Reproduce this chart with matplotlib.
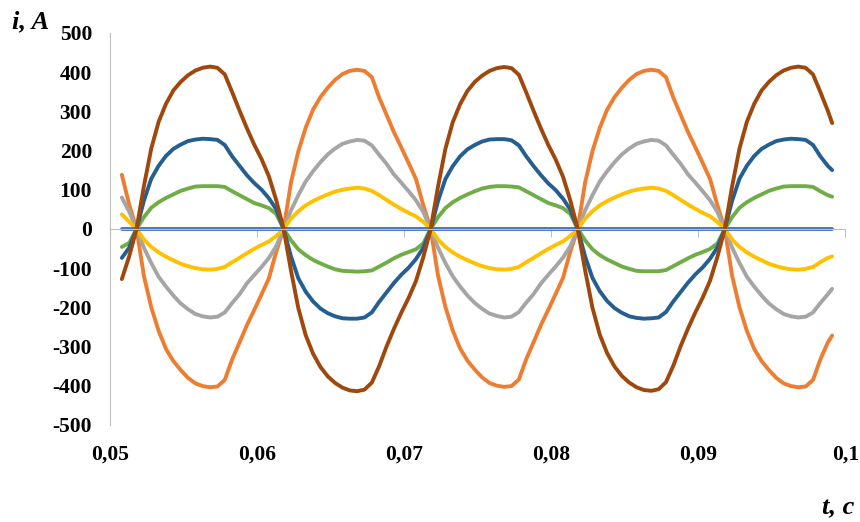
import numpy as np
import matplotlib
matplotlib.use('Agg')
import matplotlib.pyplot as plt

# time grid, s (step 0.5 ms, last point is the end of the record)
t = np.round(np.arange(0.0508, 0.0989, 0.0005), 4)
t = np.append(t, 0.0991)

# currents, A
i_brown = [-128, -70,
           0, 109, 205, 273, 319, 353, 375, 392, 404, 411, 414, 411, 394, 349, 302, 257, 215, 178, 134, 73,
           0, -106, -202, -271, -318, -352, -376, -393, -405, -412, -414, -410, -392, -350, -300, -255, -214, -176, -133, -72,
           0, 108, 204, 272, 318, 352, 375, 391, 403, 410, 413, 410, 393, 348, 301, 256, 214, 177, 133, 72,
           0, -105, -201, -270, -317, -351, -375, -392, -404, -411, -413, -409, -391, -349, -299, -254, -213, -175, -132, -71,
           0, 109, 205, 273, 319, 353, 375, 392, 404, 411, 414, 411, 394, 349, 302, 270]
i_blue = [-74, -48,
          0, 72, 128, 161, 186, 204, 215, 224, 228, 230, 229, 227, 214, 185, 161, 137, 117, 100, 78, 50,
          0, -70, -126, -160, -185, -203, -215, -223, -228, -229, -229, -226, -213, -186, -162, -138, -117, -99, -77, -48,
          0, 71, 127, 160, 185, 203, 214, 223, 228, 229, 229, 226, 213, 185, 160, 137, 116, 99, 77, 49,
          0, -70, -125, -159, -184, -202, -214, -223, -227, -229, -228, -226, -212, -185, -161, -137, -116, -98, -76, -47,
          0, 72, 128, 161, 186, 204, 215, 224, 228, 230, 229, 227, 214, 185, 161, 150]
i_green = [-46, -36,
           0, 30, 54, 68, 79, 88, 97, 103, 108, 109, 109, 109, 107, 96, 86, 76, 66, 60, 53, 38,
           0, -29, -52, -67, -79, -88, -96, -103, -107, -108, -109, -108, -106, -96, -86, -75, -66, -59, -52, -37,
           0, 30, 53, 68, 79, 88, 96, 103, 107, 109, 109, 108, 106, 96, 86, 76, 66, 60, 53, 38,
           0, -29, -52, -67, -78, -87, -96, -102, -107, -108, -108, -108, -105, -95, -85, -75, -66, -59, -51, -37,
           0, 30, 54, 68, 79, 88, 97, 103, 108, 109, 109, 109, 107, 96, 86, 82]
i_orange = [138, 62,
            0, -120, -200, -260, -306, -337, -360, -380, -394, -401, -404, -402, -385, -333, -290, -246, -207, -167, -126, -58,
            0, 118, 198, 258, 304, 336, 360, 380, 395, 403, 406, 403, 387, 335, 291, 247, 208, 168, 127, 60,
            0, -119, -199, -259, -305, -336, -359, -379, -393, -400, -403, -401, -384, -332, -289, -245, -206, -166, -125, -57,
            0, 118, 198, 258, 304, 336, 360, 380, 395, 403, 406, 403, 387, 335, 291, 247, 208, 168, 127, 60,
            0, -120, -200, -260, -306, -337, -360, -380, -394, -401, -404, -402, -385, -333, -290, -272]
i_gray = [80, 44,
          0, -48, -87, -122, -147, -170, -190, -205, -217, -223, -226, -224, -213, -189, -167, -139, -118, -97, -74, -44,
          0, 47, 86, 121, 147, 170, 190, 205, 217, 223, 227, 225, 213, 189, 166, 139, 118, 96, 73, 43,
          0, -48, -87, -121, -147, -170, -189, -204, -216, -222, -226, -224, -212, -188, -166, -139, -117, -96, -73, -44,
          0, 47, 86, 121, 147, 170, 190, 205, 217, 223, 227, 225, 213, 189, 166, 139, 118, 96, 73, 43,
          0, -48, -87, -122, -147, -170, -190, -205, -217, -223, -226, -224, -213, -189, -167, -153]
i_yellow = [37, 18,
            0, -27, -46, -60, -71, -80, -89, -95, -100, -103, -104, -102, -97, -85, -74, -62, -51, -41, -32, -18,
            0, 26, 45, 60, 71, 80, 88, 95, 100, 103, 105, 103, 97, 86, 74, 62, 51, 41, 32, 18,
            0, -27, -46, -60, -71, -80, -88, -95, -100, -103, -104, -102, -97, -85, -74, -62, -51, -41, -32, -18,
            0, 26, 45, 60, 71, 80, 88, 95, 100, 103, 105, 103, 97, 86, 74, 62, 51, 41, 32, 18,
            0, -27, -46, -60, -71, -80, -89, -95, -100, -103, -104, -102, -97, -85, -74, -70]
i_zero = [0.0] * len(t)

x_ticks = [0.05, 0.06, 0.07, 0.08, 0.09, 0.1]
x_ticklabels = ['0,05', '0,06', '0,07', '0,08', '0,09', '0,1']
y_ticks = [-500, -400, -300, -200, -100, 0, 100, 200, 300, 400, 500]

plt.rcParams['font.family'] = ['Liberation Serif', 'DejaVu Serif']
plt.rcParams['font.weight'] = 'bold'

fig = plt.figure(figsize=(8.6, 5.22), dpi=100)
ax = fig.add_axes([0.128, 0.186, 0.855, 0.751])

lw = 2.8
style = dict(lw=lw, solid_joinstyle='round', solid_capstyle='round')
ax.plot(t, i_orange, color='#ED7D31', **style)
ax.plot(t, i_gray, color='#A5A5A5', **style)
ax.plot(t, i_yellow, color='#FFC000', **style)
ax.plot(t, i_zero, color='#4472C4', **style)
ax.plot(t, i_green, color='#70AD47', **style)
ax.plot(t, i_blue, color='#255E91', **style)
ax.plot(t, i_brown, color='#9E480E', **style)

ax.set_xlim(0.05, 0.1)
ax.set_ylim(-500, 500)

# x axis line goes through zero, labels stay at the bottom
for s in ['top', 'right']:
    ax.spines[s].set_visible(False)
ax.spines['left'].set_color('#BFBFBF')
ax.spines['bottom'].set_position(('data', 0))
ax.spines['bottom'].set_color('#BFBFBF')
ax.set_xticks(x_ticks)
ax.tick_params(axis='x', direction='out', length=6, color='#BFBFBF', labelbottom=False)
ax.set_yticks(y_ticks)
ax.set_yticklabels([str(v) for v in y_ticks])
ax.tick_params(axis='y', length=0, pad=13, labelsize=15.5)

sec = ax.secondary_xaxis('bottom')
sec.set_xticks(x_ticks)
sec.set_xticklabels(x_ticklabels)
sec.spines['bottom'].set_visible(False)
sec.tick_params(length=0, pad=14, labelsize=15.5)

fig.text(0.014, 0.946, 'i, A', fontsize=19, fontstyle='italic', fontweight='bold')
fig.text(0.994, 0.015, 't, c', fontsize=19, fontstyle='italic', fontweight='bold', ha='right')

fig.savefig('out.png', dpi=100)
